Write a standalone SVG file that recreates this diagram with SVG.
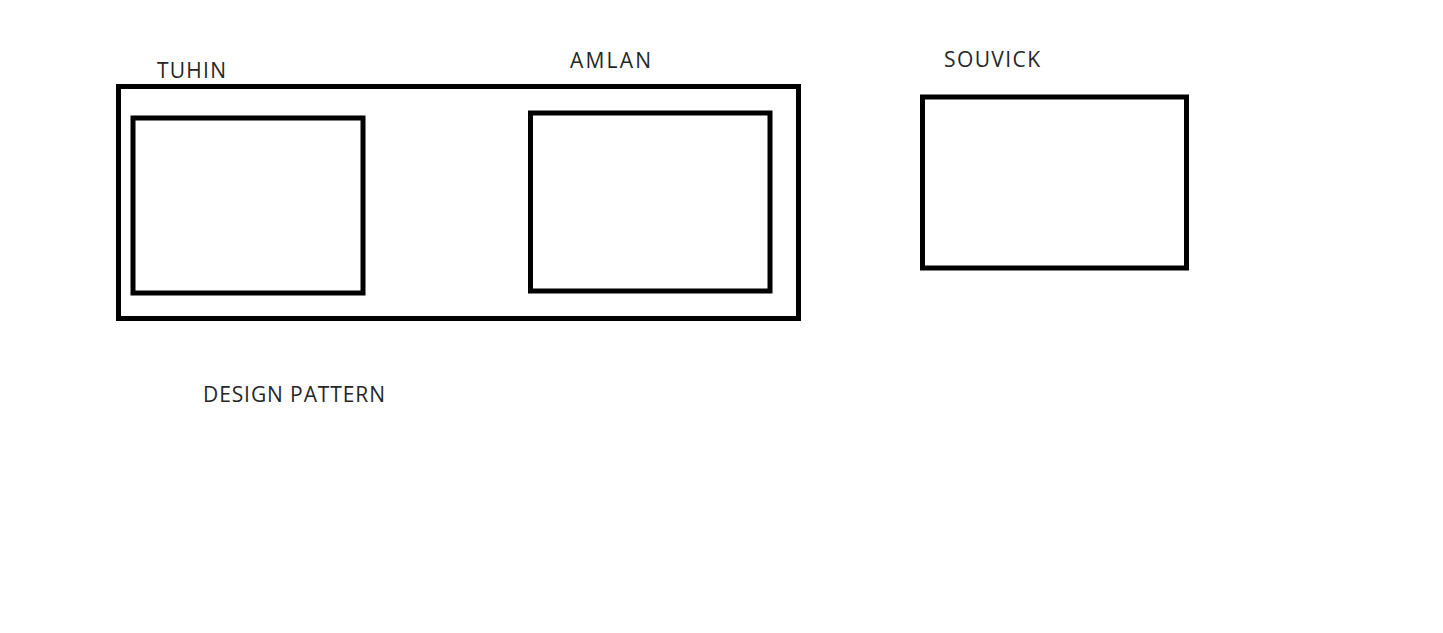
<svg xmlns="http://www.w3.org/2000/svg" width="1443" height="633" viewBox="0 0 1443 633">
<style>
.box{fill:none;stroke:#000;stroke-width:5}
.lbl{font-family:"Open Sans","Liberation Sans",sans-serif;font-size:21px;fill:#262626}
</style>
<rect width="1443" height="633" fill="#fff"/>
<g id="design-pattern">
<rect class="box" x="118.5" y="86.5" width="680" height="232"/>
<text class="lbl" x="203" y="402" textLength="182" lengthAdjust="spacing">DESIGN PATTERN</text>
</g>
<g id="tuhin">
<rect class="box" x="133" y="118" width="230" height="175"/>
<text class="lbl" x="157" y="78" textLength="69" lengthAdjust="spacing">TUHIN</text>
</g>
<g id="amlan">
<rect class="box" x="530.5" y="113" width="239.5" height="178"/>
<text class="lbl" x="570" y="68" textLength="81" lengthAdjust="spacing">AMLAN</text>
</g>
<g id="souvick">
<rect class="box" x="922.5" y="97" width="264" height="171"/>
<text class="lbl" x="944" y="67" textLength="96" lengthAdjust="spacing">SOUVICK</text>
</g>
<g id="connectors"/>
</svg>
